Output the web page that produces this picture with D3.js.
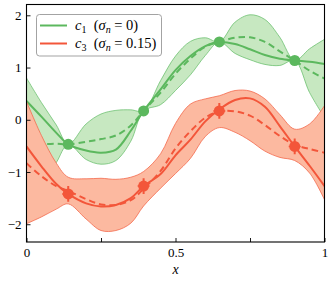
<!DOCTYPE html>
<html><head><meta charset="utf-8">
<script src="https://cdn.jsdelivr.net/npm/d3@7"></script>
<style>body{margin:0;background:#fff}svg{display:block}text{font-family:"Liberation Serif","DejaVu Serif",serif}</style>
</head><body><div id="chart"></div>
<script>
const xs = [0,0.05,0.1,0.14,0.2,0.25,0.3,0.35,0.393,0.45,0.5,0.55,0.6,0.647,0.7,0.75,0.8,0.85,0.9,0.95,1.0];
const greenTrue  = [0.36,0.06,-0.25,-0.47,-0.59,-0.63,-0.57,-0.21,0.17,0.58,0.95,1.22,1.41,1.49,1.45,1.35,1.24,1.17,1.135,1.11,1.07];
const greenMean  = [-0.40,-0.46,-0.46,-0.47,-0.42,-0.37,-0.30,-0.11,0.17,0.52,0.88,1.17,1.40,1.49,1.57,1.58,1.49,1.31,1.135,0.94,0.79];
const greenUpper = [0.80,0.33,-0.10,-0.47,-0.08,0.11,0.18,0.19,0.17,0.75,1.22,1.50,1.57,1.49,1.87,2.01,1.92,1.58,1.135,1.36,1.54];
const greenLower = [-1.60,-1.25,-0.82,-0.47,-0.76,-0.85,-0.78,-0.41,0.17,0.29,0.56,0.86,1.23,1.49,1.27,1.15,1.06,1.04,1.135,0.52,0.04];
const redTrue  = [-0.51,-0.89,-1.23,-1.42,-1.60,-1.66,-1.63,-1.50,-1.27,-1.04,-0.68,-0.38,-0.03,0.20,0.38,0.41,0.25,-0.12,-0.51,-0.88,-1.27];
const redMean  = [-0.83,-1.08,-1.27,-1.36,-1.52,-1.62,-1.63,-1.54,-1.32,-0.98,-0.55,-0.22,0.04,0.16,0.16,0.08,-0.10,-0.31,-0.48,-0.56,-0.63];
const redUpper = [0.35,-0.30,-0.83,-1.10,-1.13,-1.12,-1.14,-1.10,-0.99,-0.65,-0.07,0.30,0.40,0.46,0.56,0.55,0.40,0.10,-0.18,-0.08,0.27];
const redLower = [-1.99,-1.86,-1.71,-1.61,-1.90,-2.12,-2.12,-1.98,-1.65,-1.31,-1.03,-0.74,-0.32,-0.15,-0.24,-0.40,-0.60,-0.72,-0.78,-1.02,-1.53];
const obsX = [0.14,0.393,0.647,0.9];
const greenObs = [-0.47,0.17,1.49,1.135];
const redObs = [-1.42,-1.27,0.17,-0.51];
const redErr = [0.15,0.15,0.15,0.15];
const xTicks = [0,0.25,0.5,0.75,1];
const xTickLabels = ["0","","0.5","","1"];
const yTicks = [-2,-1,0,1,2];
const yTickLabels = ["\u22122","\u22121","0","1","2"];

const W=333,H=281, L=26.5, T=4.5, R=324.5, B=242;
const svg=d3.select("#chart").append("svg").attr("width",W).attr("height",H);
const x=d3.scaleLinear().domain([0,1]).range([L,R]);
const y=d3.scaleLinear().domain([-2.34,2.207]).range([B,T]);
const font='"Liberation Serif","DejaVu Serif",serif';

const gc={line:"#5cb85e",fill:"#c7e8c1",edge:"#6fc172"};
const rc={line:"#f3563a",fill:"#fcb9a0",edge:"#f4694c"};
const curve=d3.curveCatmullRom.alpha(0.5);
svg.append("clipPath").attr("id","clp").append("rect").attr("x",L).attr("y",T).attr("width",R-L).attr("height",B-T);
const plot=svg.append("g").attr("clip-path","url(#clp)");

function series(c, mean, tru, lo, hi){
  const idx=d3.range(xs.length);
  plot.append("path").datum(idx).attr("fill",c.fill)
    .attr("d",d3.area().curve(curve).x(i=>x(xs[i])).y0(i=>y(lo[i])).y1(i=>y(hi[i])));
  [lo,hi].forEach(arr=>plot.append("path").datum(idx).attr("fill","none").attr("stroke",c.edge).attr("stroke-width",0.8)
    .attr("d",d3.line().curve(curve).x(i=>x(xs[i])).y(i=>y(arr[i]))));
  plot.append("path").datum(idx).attr("fill","none").attr("stroke",c.line).attr("stroke-width",2)
    .attr("d",d3.line().curve(curve).x(i=>x(xs[i])).y(i=>y(tru[i])));
  plot.append("path").datum(idx).attr("fill","none").attr("stroke",c.line).attr("stroke-width",2).attr("stroke-dasharray","6.5,4")
    .attr("d",d3.line().curve(curve).x(i=>x(xs[i])).y(i=>y(mean[i])));
}
series(gc,greenMean,greenTrue,greenLower,greenUpper);
plot.selectAll(".gp").data(obsX).enter().append("circle").attr("cx",d=>x(d)).attr("cy",(d,i)=>y(greenObs[i])).attr("r",5.5).attr("fill",gc.line);
series(rc,redMean,redTrue,redLower,redUpper);
const rp=plot.selectAll(".rp").data(obsX).enter().append("g");
rp.append("line").attr("x1",d=>x(d)).attr("x2",d=>x(d)).attr("y1",(d,i)=>y(redObs[i]-redErr[i])).attr("y2",(d,i)=>y(redObs[i]+redErr[i])).attr("stroke",rc.line).attr("stroke-width",2);
rp.append("line").attr("x1",d=>x(d)-6).attr("x2",d=>x(d)+6).attr("y1",(d,i)=>y(redObs[i])).attr("y2",(d,i)=>y(redObs[i])).attr("stroke",rc.line).attr("stroke-width",1.5);
rp.append("circle").attr("cx",d=>x(d)).attr("cy",(d,i)=>y(redObs[i])).attr("r",5.5).attr("fill",rc.line);

// axes
const xa=svg.append("g").attr("transform",`translate(0,${B})`).call(d3.axisBottom(x).tickValues(xTicks).tickFormat((d,i)=>xTickLabels[i]).tickSize(-4).tickPadding(6));
const ya=svg.append("g").attr("transform",`translate(${L},0)`).call(d3.axisLeft(y).tickValues(yTicks).tickFormat((d,i)=>yTickLabels[i]).tickSize(-4).tickPadding(5));
[xa,ya].forEach(a=>{a.attr("font-family",null);a.select(".domain").remove();a.selectAll("line").attr("stroke","#000").attr("stroke-width",0.9);a.selectAll("text").style("font-family",font).style("font-size","13px").attr("fill","#000");});
svg.append("rect").attr("x",L).attr("y",T).attr("width",R-L).attr("height",B-T).attr("fill","none").attr("stroke","#000").attr("stroke-width",1.1);
svg.append("text").attr("x",(L+R)/2).attr("y",274).attr("text-anchor","middle").style("font-family",font).style("font-style","italic").style("font-size","14px").text("x");

// legend
const lg=svg.append("g");
lg.append("rect").attr("x",36.5).attr("y",14.5).attr("width",125).attr("height",41.5).attr("rx",3).attr("fill","#fff").attr("fill-opacity",0.85).attr("stroke","#999").attr("stroke-width",0.9);
const items=[{c:gc,sub:"1",val:"0"},{c:rc,sub:"3",val:"0.15"}];
items.forEach((it,i)=>{
  const yy=25.5+i*18;
  lg.append("line").attr("x1",40).attr("x2",67).attr("y1",yy).attr("y2",yy).attr("stroke",it.c.line).attr("stroke-width",2);
  const t=lg.append("text").attr("x",75).attr("y",yy+4.5).style("font-family",font).style("font-size","14.5px").attr("fill","#000");
  t.append("tspan").style("font-style","italic").text("c");
  t.append("tspan").style("font-size","10px").attr("dy",2.5).text(it.sub);
  t.append("tspan").attr("dy",-2.5).text("\u2002(");
  t.append("tspan").style("font-style","italic").text("\u03c3");
  t.append("tspan").style("font-style","italic").style("font-size","10px").attr("dy",2.5).text("n");
  t.append("tspan").attr("dy",-2.5).text(" = "+it.val+")");
});
</script></body></html>
